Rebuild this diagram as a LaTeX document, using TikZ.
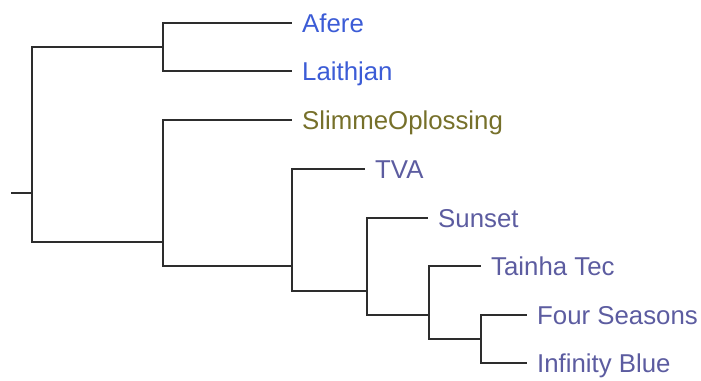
\documentclass[tikz,border=0pt]{standalone}
\usepackage{fontspec}
\setmainfont{Liberation Sans}
\definecolor{cblue}{RGB}{60,92,214}
\definecolor{colive}{RGB}{118,112,42}
\definecolor{cslate}{RGB}{92,92,160}
\definecolor{cline}{RGB}{45,45,45}
\begin{document}
\begin{tikzpicture}[x=1pt,y=-1pt,
  leaf/.style={anchor=west,inner xsep=10pt,inner ysep=0pt,text height=18.5pt,text depth=0pt,
    font=\fontsize{25.8}{30}\selectfont},
  branch/.style={draw=cline,line width=2pt,line join=miter,line cap=butt}]
\useasboundingbox (0,0) rectangle (701,380);
% leaves
\node[leaf,text=cblue]  (afere) at (292,23)  {Afere};
\node[leaf,text=cblue]  (laith) at (292,71)  {Laithjan};
\node[leaf,text=colive] (slim)  at (292,120) {SlimmeOplossing};
\node[leaf,text=cslate] (tva)   at (365,169) {TVA};
\node[leaf,text=cslate] (sun)   at (428,218) {Sunset};
\node[leaf,text=cslate] (tai)   at (481,266) {Tainha Tec};
\node[leaf,text=cslate] (four)  at (527,315) {Four Seasons};
\node[leaf,text=cslate] (inf)   at (527,363) {Infinity Blue};
% internal nodes
\coordinate (stub) at (11,193.1);
\coordinate (r) at (32,193.1);
\coordinate (a) at (163,47);
\coordinate (b) at (163,241.8);
\coordinate (c) at (292,266.2);
\coordinate (d) at (367,290.5);
\coordinate (e) at (429,315);
\coordinate (f) at (481,339);
% connectors
\draw[branch] (stub) -- (r);
\draw[branch] (r) |- (a);
\draw[branch] (r) |- (b);
\draw[branch] (a) |- (afere.west);
\draw[branch] (a) |- (laith.west);
\draw[branch] (b) |- (slim.west);
\draw[branch] (b) |- (c);
\draw[branch] (c) |- (tva.west);
\draw[branch] (c) |- (d);
\draw[branch] (d) |- (sun.west);
\draw[branch] (d) |- (e);
\draw[branch] (e) |- (tai.west);
\draw[branch] (e) |- (f);
\draw[branch] (f) |- (four.west);
\draw[branch] (f) |- (inf.west);
\end{tikzpicture}
\end{document}
